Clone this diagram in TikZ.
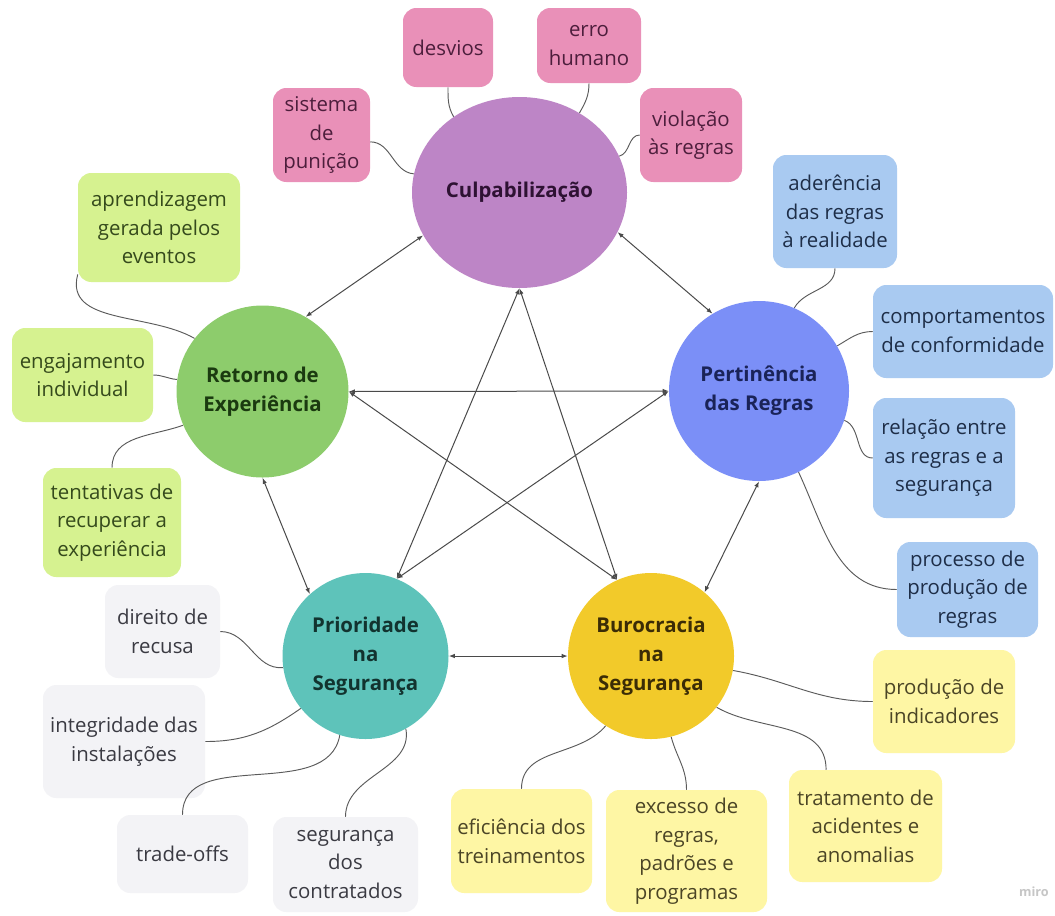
\documentclass[tikz,border=0pt]{standalone}
\usepackage{fontspec}
\setmainfont{Open Sans}
\usetikzlibrary{arrows.meta,shapes.geometric}

% palette
\definecolor{culpF}{HTML}{BD85C6}\definecolor{culpT}{HTML}{2E1233}
\definecolor{pinkF}{HTML}{E990B8}\definecolor{pinkT}{HTML}{4D1E3C}
\definecolor{retF}{HTML}{8DCC6C}\definecolor{retT}{HTML}{1B3A10}
\definecolor{greenF}{HTML}{D6F290}\definecolor{greenT}{HTML}{354A1C}
\definecolor{perF}{HTML}{7B8FF7}\definecolor{perT}{HTML}{1A2358}
\definecolor{blueF}{HTML}{A9CAF1}\definecolor{blueT}{HTML}{1E2E48}
\definecolor{priF}{HTML}{5EC3BA}\definecolor{priT}{HTML}{12332F}
\definecolor{grayF}{HTML}{F3F3F6}\definecolor{grayT}{HTML}{3A3A42}
\definecolor{burF}{HTML}{F2CA2A}\definecolor{burT}{HTML}{3B2C06}
\definecolor{yelF}{HTML}{FEF6A4}\definecolor{yelT}{HTML}{4B4526}
\definecolor{edgeC}{HTML}{4A4A4A}
\definecolor{twigC}{HTML}{5A5A5A}
\definecolor{miroC}{HTML}{C6C6C6}

\begin{document}
\begin{tikzpicture}[x=0.75pt,y=-0.75pt,
  wh/.style 2 args={minimum width=#1*0.75pt,minimum height=#2*0.75pt},
  leaf/.style={rectangle, rounded corners=10pt, inner sep=0pt, align=center,
    font=\fontsize{15.3}{21.4}\selectfont},
  pinkbox/.style={leaf, fill=pinkF, text=pinkT},
  greenbox/.style={leaf, fill=greenF, text=greenT},
  bluebox/.style={leaf, fill=blueF, text=blueT},
  graybox/.style={leaf, fill=grayF, text=grayT},
  yelbox/.style={leaf, fill=yelF, text=yelT},
  hub/.style={inner sep=0pt, align=center,
    font=\fontsize{15.3}{21.8}\selectfont\bfseries},
  hublink/.style={draw=edgeC, line width=0.75pt,
    {Latex[length=4.5pt,width=3.4pt]}-{Latex[length=4.5pt,width=3.4pt]}},
  twig/.style={draw=twigC, line width=0.7pt},
]
\fill[white] (0,0) rectangle (1055,915);
\useasboundingbox (0,0) rectangle (1055,915);

% central themes
\node[hub, ellipse, wh={215}{191}, fill=culpF, text=culpT] (culp) at (519.5,192.5) {Culpabilização};
\node[hub, circle, wh={172}{172}, fill=retF, text=retT] (ret) at (262.5,391.5) {Retorno de\\Experiência};
\node[hub, circle, wh={180}{180}, fill=perF, text=perT] (per) at (759,391) {Pertinência\\das Regras};
\node[hub, circle, wh={166}{166}, fill=priF, text=priT] (pri) at (365.5,656) {Prioridade\\na\\Segurança};
\node[hub, circle, wh={166}{166}, fill=burF, text=burT] (bur) at (651,656) {Burocracia\\na\\Segurança};

% Culpabilização
\node[pinkbox, wh={90}{79}] (des) at (448,47.5) {desvios};
\node[pinkbox, wh={104}{75}] (err) at (589,45.5) {erro\\humano};
\node[pinkbox, wh={97}{94}] (sis) at (321.5,135) {sistema\\de\\punição};
\node[pinkbox, wh={102}{94}] (vio) at (691,135) {violação\\às regras};

% Retorno de Experiência
\node[greenbox, wh={162}{109}] (apr) at (159,227.5) {aprendizagem\\gerada pelos\\eventos};
\node[greenbox, wh={141}{94}] (eng) at (82.5,375) {engajamento\\individual};
\node[greenbox, wh={138}{109}] (ten) at (112,522.5) {tentativas de\\recuperar a\\experiência};

% Pertinência das Regras
\node[bluebox, wh={124}{113}] (ade) at (835,211.5) {aderência\\das regras\\à realidade};
\node[bluebox, wh={180}{93}] (com) at (963,331.5) {comportamentos\\de conformidade};
\node[bluebox, wh={142}{120}] (rel) at (944,458) {relação entre\\as regras e a\\segurança};
\node[bluebox, wh={141}{95}] (pro) at (967.5,589.5) {processo de\\produção de\\regras};

% Prioridade na Segurança
\node[graybox, wh={115}{93}] (dir) at (162.5,631.5) {direito de\\recusa};
\node[graybox, wh={162}{113}] (int) at (124,741.5) {integridade das\\instalações};
\node[graybox, wh={131}{78}] (tra) at (182.5,854) {trade-offs};
\node[graybox, wh={145}{95}] (seg) at (345.5,864.5) {segurança\\dos\\contratados};

% Burocracia na Segurança
\node[yelbox, wh={142}{103}] (ind) at (944,701.5) {produção de\\indicadores};
\node[yelbox, wh={141}{104}] (efi) at (521.5,841) {eficiência dos\\treinamentos};
\node[yelbox, wh={161}{122}] (exc) at (686.5,851) {excesso de\\regras,\\padrões e\\programas};
\node[yelbox, wh={153}{112}] (trt) at (865.5,826) {tratamento de\\acidentes e\\anomalias};

% links between the themes
\draw[hublink] (culp.204.5) -- (ret.60);
\draw[hublink] (culp.-22) -- (per.121);
\draw[hublink] (culp.south) -- (pri.68);
\draw[hublink] (culp.south) -- (bur.114.5);
\draw[hublink] (ret.east) -- (per.west);
\draw[hublink] (ret.east) -- (bur.114.5);
\draw[hublink] (ret.south) -- (pri.132);
\draw[hublink] (per.west) -- (pri.68);
\draw[hublink] (per.south) -- (bur.50);
\draw[hublink] (pri.east) -- (bur.west);

% branches to the sub-topics
\draw[twig] (des.south) to[out=-90,in=120] (culp.131);
\draw[twig] (err.south) to[out=-90,in=60] (culp.53);
\draw[twig] (sis.-8) to[out=0,in=175] (culp.170);
\draw[twig] (vio.west) to[out=180,in=15] (culp.20);

\draw[twig] (apr.210) to[out=255,in=150] (ret.142);
\draw[twig] (eng.east) to[out=0,in=175] (ret.172);
\draw[twig] (ten.north) to[out=90,in=200] (ret.203);

\draw[twig] (ade.south) to[out=-90,in=60] (per.67);
\draw[twig] (com.west) to[out=180,in=30] (per.30);
\draw[twig] (rel.west) to[out=180,in=-20] (per.-19);
\draw[twig] (pro.west) to[out=180,in=-65] (per.-64);

\draw[twig] (dir.east) to[out=0,in=185] (pri.188);
\draw[twig] (int.east) to[out=0,in=215] (pri.219);
\draw[twig] (tra.north) to[out=90,in=260] (pri.252);
\draw[twig] (seg.north) to[out=90,in=-80] (pri.-61);

\draw[twig] (ind.west) to[out=180,in=-10] (bur.-10);
\draw[twig] (trt.125) to[out=90,in=-30] (bur.-38);
\draw[twig] (exc.north) to[out=90,in=-75] (bur.-76);
\draw[twig] (efi.north) to[out=90,in=230] (bur.237);

% watermark
\node[text=miroC, font=\fontsize{9.5}{10}\selectfont\bfseries] (wm) at (1034,892) {miro};
\end{tikzpicture}
\end{document}
